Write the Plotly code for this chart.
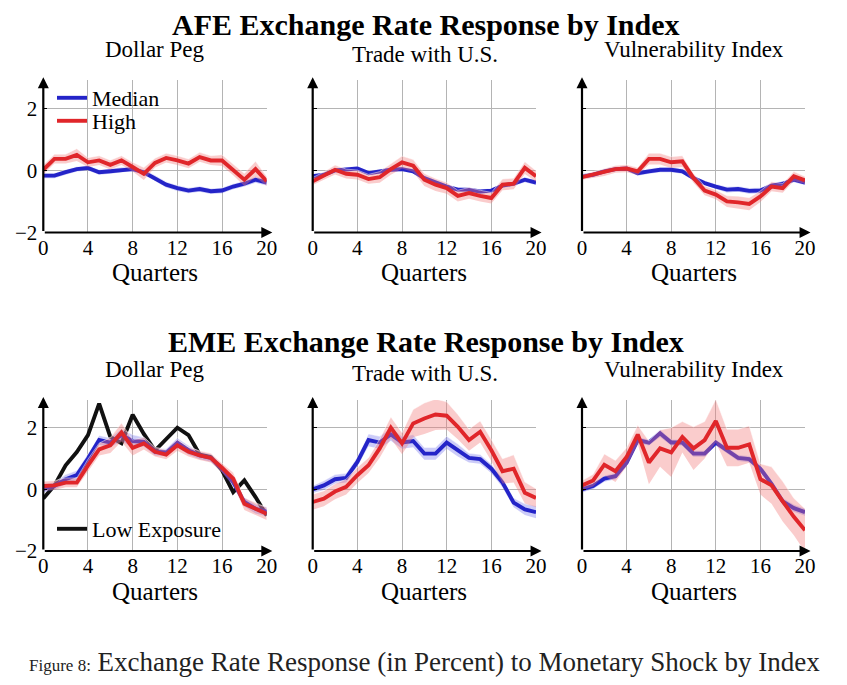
import plotly.graph_objects as go

W, H = 847, 685
PAGE_MARGIN = 8  # default body margin of the html page

quarters = list(range(21))
x_ticks = [0, 4, 8, 12, 16, 20]
y_ticks = [-2, 0, 2]
y_tick_text = ["\u22122", "0", "2"]

# ---- AFE ----
afe_peg_median = [-0.17, -0.17, -0.06, 0.04, 0.08, -0.06, -0.03, 0.02, 0.04, -0.06, -0.25,
                  -0.46, -0.57, -0.65, -0.60, -0.67, -0.65, -0.52, -0.43, -0.30, -0.39]
afe_peg_median_bw = [0.08, 0.08, 0.08, 0.08, 0.08, 0.08, 0.08, 0.08, 0.08, 0.08, 0.09,
                     0.09, 0.09, 0.09, 0.09, 0.09, 0.09, 0.09, 0.09, 0.1, 0.1]
afe_peg_high = [0.02, 0.37, 0.37, 0.50, 0.26, 0.32, 0.18, 0.32, 0.11, -0.11, 0.24,
                0.40, 0.32, 0.22, 0.43, 0.32, 0.32, 0.02, -0.30, 0.04, -0.35]
afe_peg_high_bw = [0.15, 0.15, 0.15, 0.2, 0.15, 0.15, 0.15, 0.15, 0.15, 0.2, 0.15,
                   0.15, 0.15, 0.15, 0.15, 0.15, 0.18, 0.18, 0.2, 0.25, 0.15]

afe_trade_median = [-0.19, -0.14, 0.00, 0.04, 0.06, -0.09, -0.03, 0.02, 0.04, -0.03, -0.25,
                    -0.39, -0.52, -0.62, -0.62, -0.68, -0.65, -0.49, -0.43, -0.30, -0.39]
afe_trade_median_bw = [0.07, 0.07, 0.07, 0.07, 0.07, 0.07, 0.07, 0.07, 0.07, 0.07, 0.07,
                       0.07, 0.07, 0.07, 0.07, 0.07, 0.07, 0.07, 0.07, 0.08, 0.08]
afe_trade_high = [-0.35, -0.17, 0.02, -0.11, -0.14, -0.28, -0.22, 0.04, 0.26, 0.15, -0.30,
                  -0.46, -0.57, -0.82, -0.73, -0.82, -0.89, -0.46, -0.43, 0.08, -0.19]
afe_trade_high_bw = [0.12, 0.12, 0.15, 0.15, 0.15, 0.15, 0.18, 0.18, 0.2, 0.2, 0.2,
                     0.2, 0.18, 0.18, 0.18, 0.18, 0.18, 0.18, 0.18, 0.2, 0.18]

afe_vuln_median = [-0.19, -0.14, -0.03, 0.04, 0.06, -0.09, -0.03, 0.02, 0.02, -0.03, -0.25,
                   -0.41, -0.52, -0.62, -0.60, -0.66, -0.65, -0.49, -0.43, -0.30, -0.39]
afe_vuln_median_bw = [0.07, 0.07, 0.07, 0.07, 0.07, 0.08, 0.08, 0.08, 0.08, 0.08, 0.08,
                      0.08, 0.08, 0.09, 0.09, 0.09, 0.09, 0.08, 0.08, 0.08, 0.08]
afe_vuln_high = [-0.22, -0.14, -0.06, 0.04, 0.06, -0.03, 0.37, 0.37, 0.26, 0.29, -0.25,
                 -0.65, -0.78, -1.00, -1.03, -1.08, -0.84, -0.52, -0.57, -0.19, -0.32]
afe_vuln_high_bw = [0.08, 0.1, 0.12, 0.12, 0.12, 0.12, 0.18, 0.18, 0.18, 0.18, 0.15,
                    0.15, 0.15, 0.18, 0.2, 0.2, 0.18, 0.15, 0.15, 0.15, 0.12]

# ---- EME ----
eme_peg_low = [-0.30, 0.13, 0.78, 1.21, 1.76, 2.78, 1.70, 1.50, 2.42, 1.80, 1.26,
               1.65, 2.00, 1.76, 1.13, 1.05, 0.62, -0.09, 0.29, -0.25, -0.85]
eme_peg_median = [0.02, 0.11, 0.33, 0.46, 1.00, 1.60, 1.52, 1.76, 1.57, 1.54, 1.22,
                  1.20, 1.52, 1.27, 1.10, 1.02, 0.67, 0.24, -0.41, -0.63, -0.72]
eme_peg_median_bw = [0.12, 0.12, 0.15, 0.15, 0.15, 0.15, 0.15, 0.2, 0.2, 0.15, 0.12,
                     0.12, 0.15, 0.15, 0.12, 0.12, 0.12, 0.15, 0.15, 0.15, 0.15]
eme_peg_high = [0.11, 0.13, 0.22, 0.22, 0.78, 1.30, 1.43, 1.85, 1.35, 1.49, 1.22,
                1.13, 1.43, 1.22, 1.10, 1.02, 0.70, 0.35, -0.47, -0.63, -0.79]
eme_peg_high_bw = [0.15, 0.15, 0.15, 0.15, 0.2, 0.2, 0.25, 0.3, 0.25, 0.2, 0.15,
                   0.15, 0.18, 0.15, 0.15, 0.15, 0.15, 0.2, 0.2, 0.2, 0.2]

eme_trade_median = [0.00, 0.13, 0.33, 0.37, 0.89, 1.60, 1.52, 1.78, 1.52, 1.57, 1.16,
                    1.16, 1.52, 1.27, 1.02, 0.98, 0.67, 0.22, -0.43, -0.65, -0.74]
eme_trade_median_bw = [0.12, 0.15, 0.15, 0.15, 0.15, 0.2, 0.2, 0.2, 0.2, 0.2, 0.2,
                       0.2, 0.2, 0.2, 0.15, 0.15, 0.15, 0.15, 0.15, 0.18, 0.2]
eme_trade_high = [-0.41, -0.30, -0.07, 0.08, 0.46, 0.78, 1.33, 2.00, 1.49, 2.14, 2.30,
                  2.43, 2.39, 2.03, 1.60, 1.87, 1.27, 0.59, 0.67, -0.11, -0.28]
eme_trade_high_bw = [0.25, 0.25, 0.25, 0.25, 0.25, 0.25, 0.3, 0.35, 0.35, 0.45, 0.5,
                     0.5, 0.45, 0.4, 0.35, 0.35, 0.35, 0.4, 0.45, 0.35, 0.3]

eme_vuln_median = [0.00, 0.11, 0.35, 0.43, 0.87, 1.60, 1.52, 1.82, 1.52, 1.52, 1.16,
                   1.16, 1.52, 1.27, 1.02, 0.98, 0.67, 0.18, -0.39, -0.61, -0.74]
eme_vuln_median_bw = [0.1, 0.1, 0.1, 0.1, 0.1, 0.1, 0.1, 0.12, 0.1, 0.1, 0.1,
                      0.1, 0.1, 0.1, 0.1, 0.1, 0.1, 0.1, 0.12, 0.12, 0.12]
eme_vuln_high = [0.13, 0.29, 0.80, 0.59, 1.05, 1.78, 0.87, 1.33, 1.20, 1.70, 1.33,
                 1.60, 2.22, 1.35, 1.35, 1.46, 0.33, 0.13, -0.39, -0.89, -1.33]
eme_vuln_high_bw = [0.15, 0.2, 0.35, 0.35, 0.3, 0.3, 0.7, 0.6, 0.8, 0.5, 0.7,
                    0.6, 0.7, 0.6, 0.6, 0.6, 0.5, 0.6, 0.65, 0.6, 0.7]

panel_titles = ["Dollar Peg", "Trade with U.S.", "Vulnerability Index"]
row_titles = ["AFE Exchange Rate Response by Index", "EME Exchange Rate Response by Index"]
caption_small = "Figure 8:"
caption_main = "Exchange Rate Response (in Percent) to Monetary Shock by Index"
x_title = "Quarters"

BLUE = "#2424c8"
RED = "#e0262a"
BLACK = "#111111"
BLUE_BAND = "rgba(110,110,235,0.35)"
RED_BAND = "rgba(242,120,120,0.38)"
FONT = "Liberation Serif"

FW, FH = W - PAGE_MARGIN, H - PAGE_MARGIN

# pixel geometry (page coordinates)
col_x0 = [43.3, 312.7, 582.0]
col_x1 = [266.7, 536.0, 805.0]
row_ybot = [232.5, 551.0]   # pixel of y=-2
row_ytop = [80.3, 400.0]    # pixel of y=2.9
Y_MAX = 2.9

def px(x):
    return (x - PAGE_MARGIN) / FW

def py(y):
    return 1 - (y - PAGE_MARGIN) / FH

panels = [
    (0, 0, [("Median", afe_peg_median, afe_peg_median_bw, BLUE, BLUE_BAND, "legend"),
            ("High", afe_peg_high, afe_peg_high_bw, RED, RED_BAND, "legend3")]),
    (0, 1, [("Median", afe_trade_median, afe_trade_median_bw, BLUE, BLUE_BAND, None),
            ("High", afe_trade_high, afe_trade_high_bw, RED, RED_BAND, None)]),
    (0, 2, [("Median", afe_vuln_median, afe_vuln_median_bw, BLUE, BLUE_BAND, None),
            ("High", afe_vuln_high, afe_vuln_high_bw, RED, RED_BAND, None)]),
    (1, 0, [("Low Exposure", eme_peg_low, None, BLACK, None, "legend2"),
            ("Median", eme_peg_median, eme_peg_median_bw, BLUE, BLUE_BAND, None),
            ("High", eme_peg_high, eme_peg_high_bw, RED, RED_BAND, None)]),
    (1, 1, [("Median", eme_trade_median, eme_trade_median_bw, BLUE, BLUE_BAND, None),
            ("High", eme_trade_high, eme_trade_high_bw, RED, RED_BAND, None)]),
    (1, 2, [("Median", eme_vuln_median, eme_vuln_median_bw, BLUE, BLUE_BAND, None),
            ("High", eme_vuln_high, eme_vuln_high_bw, RED, RED_BAND, None)]),
]

fig = go.Figure()
annotations = []
layout_axes = {}

for i, (r, c, series) in enumerate(panels):
    n = i + 1
    xa = "x" if n == 1 else f"x{n}"
    ya = "y" if n == 1 else f"y{n}"
    xkey = "xaxis" if n == 1 else f"xaxis{n}"
    ykey = "yaxis" if n == 1 else f"yaxis{n}"

    for name, vals, bw, color, band, leg in series:
        if bw is not None:
            lo = [v - w for v, w in zip(vals, bw)]
            hi = [v + w for v, w in zip(vals, bw)]
            fig.add_trace(go.Scatter(x=quarters, y=lo, xaxis=xa, yaxis=ya, mode="lines",
                                     line=dict(width=0, color=band), showlegend=False,
                                     hoverinfo="skip"))
            fig.add_trace(go.Scatter(x=quarters, y=hi, xaxis=xa, yaxis=ya, mode="lines",
                                     line=dict(width=0.8, color="rgba(255,255,255,0.6)"),
                                     fill="tonexty", fillcolor=band, showlegend=False,
                                     hoverinfo="skip"))
        if leg is not None:
            kw = dict(showlegend=True, legend=leg)
        else:
            kw = dict(showlegend=False)
        fig.add_trace(go.Scatter(x=quarters, y=vals, xaxis=xa, yaxis=ya, mode="lines",
                                 name=name, line=dict(color=color, width=3.9), **kw))

    layout_axes[xkey] = dict(
        domain=[px(col_x0[c]), px(col_x1[c])], anchor=ya, range=[0, 20],
        tickvals=x_ticks, showgrid=True, gridcolor="#b4b4b4", gridwidth=1,
        zeroline=False, showline=False, ticks="", fixedrange=True, automargin=False,
        tickfont=dict(family=FONT, size=21, color="black"),
    )
    layout_axes[ykey] = dict(
        domain=[py(row_ybot[r]), py(row_ytop[r])], anchor=xa, range=[-2, Y_MAX],
        tickvals=y_ticks, ticktext=y_tick_text, showticklabels=(c == 0),
        showgrid=True, gridcolor="#b4b4b4", gridwidth=1, zeroline=False, showline=False,
        ticks="inside", ticklen=4, tickcolor="black", fixedrange=True, automargin=False,
        ticklabelstandoff=5,
        tickfont=dict(family=FONT, size=21, color="black"),
    )

    # axis arrows
    annotations.append(dict(xref=xa, yref=ya, axref=xa, ayref=ya, x=20.5, y=-2, ax=0, ay=-2,
                            text="", showarrow=True, arrowhead=2, arrowsize=1,
                            arrowwidth=2.2, arrowcolor="black", standoff=0, startstandoff=0))
    annotations.append(dict(xref=xa, yref=ya, axref=xa, ayref=ya, x=0, y=Y_MAX + 0.1, ax=0, ay=-2,
                            text="", showarrow=True, arrowhead=2, arrowsize=1,
                            arrowwidth=2.2, arrowcolor="black", standoff=0, startstandoff=0))

    cx = (col_x0[c] + col_x1[c]) / 2
    # x title
    annotations.append(dict(xref="paper", yref="paper", x=px(cx), y=py(row_ybot[r] + 40),
                            text=x_title, showarrow=False, xanchor="center", yanchor="middle",
                            font=dict(family=FONT, size=25, color="black")))
    # panel title
    t_y = [[49, 55, 49], [369, 374, 369]][r][c]
    t_x = [155, 425, 694][c]
    annotations.append(dict(xref="paper", yref="paper", x=px(t_x), y=py(t_y),
                            text=panel_titles[c], showarrow=False, xanchor="center",
                            yanchor="middle", font=dict(family=FONT, size=23, color="black")))

for r, t in enumerate(row_titles):
    annotations.append(dict(xref="paper", yref="paper", x=px(426), y=py([25, 341][r]),
                            text=f"<b>{t}</b>", showarrow=False, xanchor="center",
                            yanchor="middle", font=dict(family=FONT, size=30, color="black")))

annotations.append(dict(xref="paper", yref="paper", x=px(27), y=py(662),
                        text=f"<span style='font-size:17px'>{caption_small}</span> {caption_main}",
                        showarrow=False, xanchor="left", yanchor="middle",
                        font=dict(family=FONT, size=27, color="#222222")))

legend_common = dict(xanchor="left", yanchor="top", bgcolor="rgba(0,0,0,0)",
                     font=dict(family=FONT, size=22, color="black"), itemwidth=30)

fig.update_layout(
    width=FW, height=FH, margin=dict(l=0, r=0, t=0, b=0),
    paper_bgcolor="white", plot_bgcolor="white",
    annotations=annotations,
    legend=dict(x=px(52), y=py(77), **legend_common),
    legend3=dict(x=px(52), y=py(100), **legend_common),
    legend2=dict(x=px(52), y=py(508), **legend_common),
    **layout_axes,
)

fig.write_html("out.html")
